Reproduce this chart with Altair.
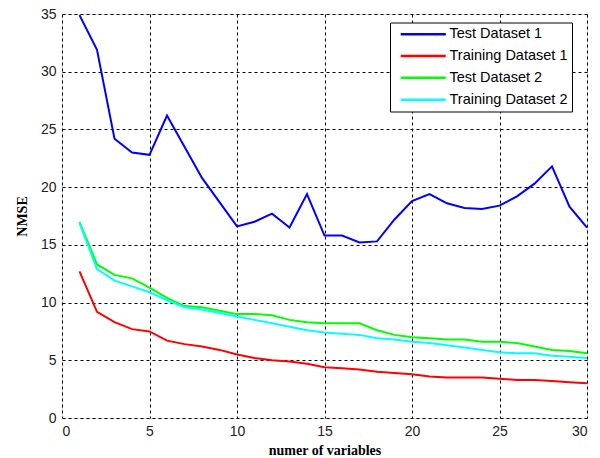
import altair as alt
import pandas as pd

# Number of variables on the x axis
n_vars = list(range(1, 31))

# NMSE per model size, one list per curve
test_1 = [34.9, 31.9, 24.2, 23.0, 22.8, 26.2, 23.5, 20.8, 18.7, 16.6,
          17.0, 17.7, 16.5, 19.4, 15.8, 15.8, 15.2, 15.3, 17.2, 18.8,
          19.4, 18.6, 18.2, 18.1, 18.4, 19.2, 20.3, 21.8, 18.3, 16.5]
train_1 = [12.7, 9.2, 8.3, 7.7, 7.5, 6.7, 6.4, 6.2, 5.9, 5.5,
           5.2, 5.0, 4.9, 4.7, 4.4, 4.3, 4.2, 4.0, 3.9, 3.8,
           3.6, 3.5, 3.5, 3.5, 3.4, 3.3, 3.3, 3.2, 3.1, 3.0]
test_2 = [17.0, 13.3, 12.4, 12.1, 11.3, 10.4, 9.7, 9.6, 9.3, 9.0,
          9.0, 8.9, 8.5, 8.3, 8.2, 8.2, 8.2, 7.6, 7.2, 7.0,
          6.9, 6.8, 6.8, 6.6, 6.6, 6.5, 6.2, 5.9, 5.8, 5.6]
train_2 = [16.9, 12.9, 11.9, 11.4, 10.9, 10.2, 9.6, 9.4, 9.1, 8.8,
           8.5, 8.2, 7.9, 7.6, 7.4, 7.3, 7.2, 6.9, 6.8, 6.6,
           6.5, 6.3, 6.1, 5.9, 5.7, 5.6, 5.6, 5.4, 5.3, 5.2]

series_names = ["Test Dataset 1", "Training Dataset 1", "Test Dataset 2", "Training Dataset 2"]
series_colors = ["#0000FF", "#FF0000", "#00FF00", "#00FFFF"]
series_values = [test_1, train_1, test_2, train_2]

rows = []
for order, (name, vals) in enumerate(zip(series_names, series_values)):
    for x, v in zip(n_vars, vals):
        rows.append({"vars": x, "nmse": v, "series": name, "order": order})
df = pd.DataFrame(rows)

axis_common = dict(
    grid=True,
    gridColor="#000000",
    gridDash=[3, 3],
    gridOpacity=1,
    gridWidth=1,
    domain=False,
    ticks=False,
    labelFont="Liberation Sans",
    labelFontSize=14,
    labelColor="#222222",
    titleFont="Liberation Serif",
    titleFontSize=14,
    titleFontWeight="bold",
    titleColor="#000000",
)

chart = alt.Chart(df).mark_line(strokeWidth=2).encode(
    x=alt.X("vars:Q",
            scale=alt.Scale(domain=[0, 30], nice=False, zero=False),
            axis=alt.Axis(values=[0, 5, 10, 15, 20, 25, 30], format="d",
                          title="numer of variables", labelPadding=6,
                          titlePadding=5, **axis_common)),
    y=alt.Y("nmse:Q",
            scale=alt.Scale(domain=[0, 35], nice=False),
            axis=alt.Axis(values=[0, 5, 10, 15, 20, 25, 30, 35], format="d",
                          title="NMSE", labelPadding=6, titlePadding=11,
                          **axis_common)),
    color=alt.Color("series:N",
                    scale=alt.Scale(domain=series_names, range=series_colors),
                    sort=series_names,
                    legend=alt.Legend(
                        title=None,
                        orient="none",
                        legendX=328,
                        legendY=8.5,
                        # wide horizontal stroke as the legend key
                        symbolType="M-4,0L4,0",
                        symbolSize=127,
                        symbolStrokeWidth=2.5,
                        symbolOffset=21.5,
                        labelFont="Liberation Sans",
                        labelFontSize=14.5,
                        labelColor="#000000",
                        labelOffset=19,
                        rowPadding=6.8,
                        padding=4.5,
                        strokeColor="#000000",
                        fillColor="#FFFFFF",
                    )),
    order=alt.Order("order:Q"),
    detail="series:N",
).properties(
    width=525,
    height=404,
    autosize=alt.AutoSizeParams(type="none"),
    padding={"left": 62, "top": 14, "right": 13, "bottom": 40},
).configure_view(
    stroke="#555555",
    strokeWidth=1,
).configure(
    background="#FFFFFF",
)

chart.save("out.html", embed_options={"renderer": "svg", "actions": False})
